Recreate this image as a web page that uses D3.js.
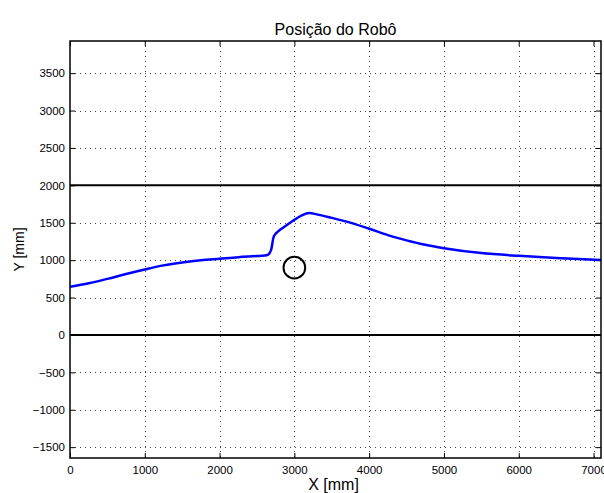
<!DOCTYPE html>
<html>
<head>
<meta charset="utf-8">
<script src="https://cdn.jsdelivr.net/npm/d3@7"></script>
<style>
  html, body { margin: 0; padding: 0; background: #fff; }
  svg { display: block; font-family: "Liberation Sans", Arial, Helvetica, sans-serif; }
</style>
</head>
<body>
<svg id="chart" width="604" height="493"></svg>
<script>
// Data
const pathX = [0, 250, 500, 750, 1000, 1250, 1500, 1750, 2000, 2250, 2500, 2600, 2650, 2690, 2720, 2760, 2800, 2900, 3000, 3100, 3200, 3300, 3500, 3700, 4000, 4250, 4500, 4750, 5000, 5500, 6000, 6500, 7100];
const pathY = [645, 690, 750, 815, 875, 930, 970, 1000, 1020, 1040, 1055, 1062, 1075, 1140, 1300, 1365, 1400, 1470, 1540, 1600, 1630, 1612, 1565, 1515, 1420, 1335, 1265, 1205, 1160, 1095, 1058, 1030, 1003];
const wallY = [0, 2000];
const obstacle = { x: 3000, y: 900, r: 145 };
const xTicks = [0, 1000, 2000, 3000, 4000, 5000, 6000, 7000];
const yTicks = [-1500, -1000, -500, 0, 500, 1000, 1500, 2000, 2500, 3000, 3500];
const xDomain = [0, 7100];
const yDomain = [-1645, 3930];
const titleText = "Posição do Robô";
const xLabel = "X [mm]";
const yLabel = "Y [mm]";

const pL = 70, pR = 601, pT = 41, pB = 458;
const svg = d3.select("#chart");
const x = d3.scaleLinear().domain(xDomain).range([pL, pR]);
const y = d3.scaleLinear().domain(yDomain).range([pB, pT]);
const fmt = d => d < 0 ? "\u2212" + Math.abs(d) : String(d);

// grid
const grid = svg.append("g");
grid.selectAll("line.gx").data(xTicks.filter(d => d > 0)).enter().append("line")
  .attr("x1", d => Math.round(x(d)) + 0.5).attr("x2", d => Math.round(x(d)) + 0.5)
  .attr("y1", pT).attr("y2", pB)
  .attr("stroke", "#444").attr("stroke-width", 1).attr("stroke-dasharray", "1,4");
grid.selectAll("line.gy").data(yTicks).enter().append("line")
  .attr("y1", d => Math.round(y(d)) + 0.5).attr("y2", d => Math.round(y(d)) + 0.5)
  .attr("x1", pL).attr("x2", pR)
  .attr("stroke", "#444").attr("stroke-width", 1).attr("stroke-dasharray", "1,4");

// axes (inner ticks on all sides)
const axB = d3.axisBottom(x).tickValues(xTicks).tickSize(-5).tickPadding(8).tickFormat(fmt);
const axT = d3.axisTop(x).tickValues(xTicks).tickSize(-5).tickFormat("");
const axL = d3.axisLeft(y).tickValues(yTicks).tickSize(-5).tickPadding(5).tickFormat(fmt);
const axR = d3.axisRight(y).tickValues(yTicks).tickSize(-5).tickFormat("");
function style(g) {
  g.select(".domain").remove();
  g.selectAll(".tick line").attr("stroke", "#000").attr("stroke-width", 1);
  g.selectAll(".tick text").attr("fill", "#000").style("font-size", "11.5px")
    .style("font-family", "'Liberation Sans', Arial, sans-serif");
}
svg.append("g").attr("transform", `translate(0,${pB})`).call(axB).call(style);
svg.append("g").attr("transform", `translate(0,${pT})`).call(axT).call(style);
svg.append("g").attr("transform", `translate(${pL},0)`).call(axL).call(style);
svg.append("g").attr("transform", `translate(${pR},0)`).call(axR).call(style);

// walls
svg.selectAll("line.wall").data(wallY).enter().append("line")
  .attr("x1", x(xDomain[0])).attr("x2", x(xDomain[1]))
  .attr("y1", d => y(d)).attr("y2", d => y(d))
  .attr("stroke", "#000").attr("stroke-width", 2);

// obstacle
svg.append("circle")
  .attr("cx", x(obstacle.x)).attr("cy", y(obstacle.y))
  .attr("r", x(obstacle.r) - x(0))
  .attr("fill", "none").attr("stroke", "#000").attr("stroke-width", 2);

// path
const pts = pathX.map((d, i) => [d, pathY[i]]);
svg.append("path").datum(pts)
  .attr("d", d3.line().x(d => x(d[0])).y(d => y(d[1])).curve(d3.curveMonotoneX))
  .attr("fill", "none").attr("stroke", "#0000ff").attr("stroke-width", 2.5)
  .attr("stroke-linejoin", "round");

// frame
svg.append("rect").attr("x", pL).attr("y", pT)
  .attr("width", pR - pL).attr("height", pB - pT)
  .attr("fill", "none").attr("stroke", "#000").attr("stroke-width", 1.5);

// texts
svg.append("text").attr("x", (pL + pR) / 2).attr("y", 35)
  .attr("text-anchor", "middle").style("font-size", "16px").text(titleText);
svg.append("text").attr("x", (pL + pR) / 2 - 2).attr("y", 490)
  .attr("text-anchor", "middle").style("font-size", "16px").text(xLabel);
svg.append("text").attr("transform", `translate(24,${(pT + pB) / 2}) rotate(-90)`)
  .attr("text-anchor", "middle").style("font-size", "14px").text(yLabel);
</script>
</body>
</html>
